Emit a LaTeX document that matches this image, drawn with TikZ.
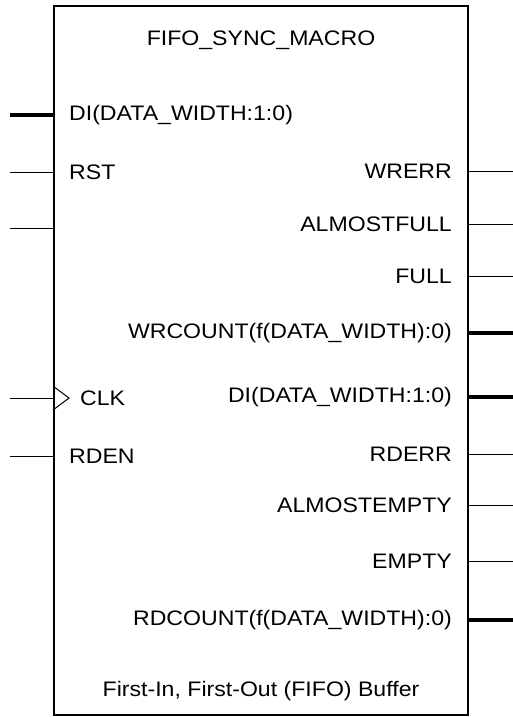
\documentclass[tikz,border=0pt]{standalone}
\usepackage{fontspec}
\setmainfont[FakeStretch=1.1]{Liberation Sans}
\begin{document}
\begin{tikzpicture}[x=1pt,y=-1pt,
  lbl/.style={font=\fontsize{21}{24}\selectfont, inner sep=0pt},
  thin pin/.style={line width=1pt},
  bus pin/.style={line width=4.5pt},
  boxstyle/.style={draw, line width=2pt, inner sep=0pt}]
\useasboundingbox (0,0) rectangle (513,717);
\node[boxstyle, minimum width=414pt, minimum height=709pt] (box) at (261,360.5) {};
% title and footer
\node[lbl] (title) at (261,40) {FIFO\_SYNC\_MACRO};
\node[lbl] (foot) at (261,691) {First-In, First-Out (FIFO) Buffer};
% left labels
\node[lbl, anchor=west] (ldi) at (69,115) {DI(DATA\_WIDTH:1:0)};
\node[lbl, anchor=west] (lrst) at (69,172) {RST};
\node[lbl, anchor=west] (lclk) at (80,398) {CLK};
\node[lbl, anchor=west] (lrden) at (69,456) {RDEN};
% right labels
\node[lbl, anchor=east] (rwrerr) at (452,171) {WRERR};
\node[lbl, anchor=east] (raf) at (452,224) {ALMOSTFULL};
\node[lbl, anchor=east] (rfull) at (452,276) {FULL};
\node[lbl, anchor=east] (rwrc) at (452,333) {WRCOUNT(f(DATA\_WIDTH):0)};
\node[lbl, anchor=east] (rdo) at (452,397) {DI(DATA\_WIDTH:1:0)};
\node[lbl, anchor=east] (rrderr) at (452,454) {RDERR};
\node[lbl, anchor=east] (rae) at (452,505) {ALMOSTEMPTY};
\node[lbl, anchor=east] (rempty) at (452,561) {EMPTY};
\node[lbl, anchor=east] (rrdc) at (452,620) {RDCOUNT(f(DATA\_WIDTH):0)};
% left pin ends
\coordinate (a1) at (10,115); \coordinate (b1) at (box.west |- a1);
\coordinate (a2) at (10,172); \coordinate (b2) at (box.west |- a2);
\coordinate (a3) at (10,228); \coordinate (b3) at (box.west |- a3);
\coordinate (a4) at (10,398); \coordinate (b4) at (box.west |- a4);
\coordinate (a5) at (10,456); \coordinate (b5) at (box.west |- a5);
\draw[bus pin] (a1) -- (b1);
\draw[thin pin] (a2) -- (b2);
\draw[thin pin] (a3) -- (b3);
\draw[thin pin] (a4) -- (b4);
\draw[thin pin] (a5) -- (b5);
% clock triangle
\draw[line width=1pt, line join=miter] ([yshift=-12pt]b4) -- ([xshift=16pt]b4) -- ([yshift=12pt]b4);
% right pins
\foreach \y/\w [count=\i] in {171/thin pin,224/thin pin,276/thin pin,333/bus pin,397/bus pin,454/thin pin,505/thin pin,561/thin pin,620/bus pin}{
  \coordinate (r\i) at (box.east |- 0,\y);
  \coordinate (e\i) at (513,\y);
  \draw[\w] (r\i) -- (e\i);
}
\end{tikzpicture}
\end{document}
